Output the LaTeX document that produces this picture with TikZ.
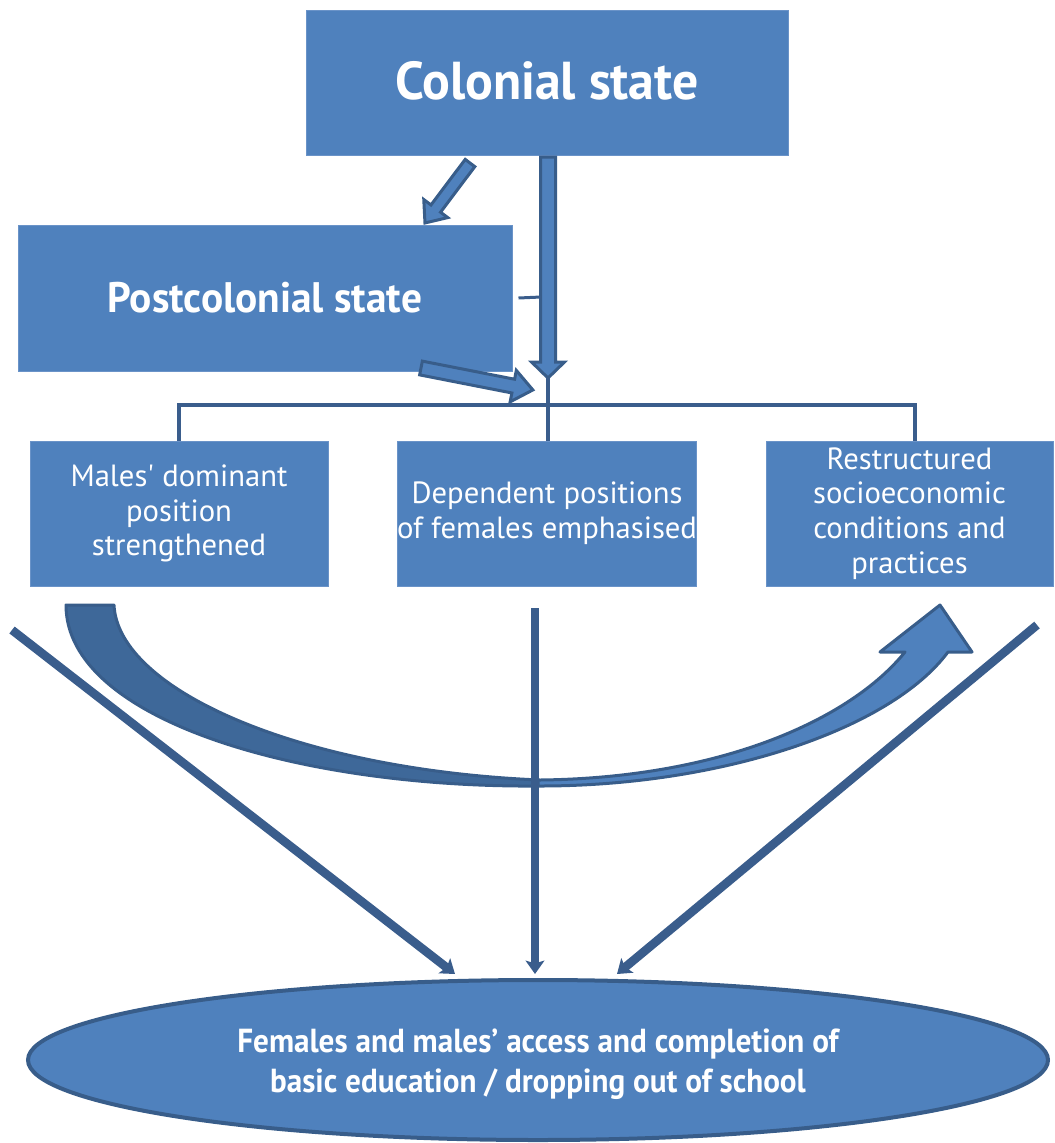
\documentclass[tikz,border=0pt]{standalone}
\usepackage{fontspec}
\setmainfont{PT Sans}
\newfontfamily\boxfont{PT Sans}
\newfontfamily\titlefont[FakeStretch=0.97]{PT Sans Bold}
\newfontfamily\ellfont[FakeStretch=0.935]{PT Sans Bold}
\usetikzlibrary{shapes.geometric,arrows.meta,calc}
\definecolor{boxblue}{HTML}{4F81BD}
\definecolor{edgeblue}{HTML}{385D8A}
\definecolor{lineblue}{HTML}{3A5D8C}
\definecolor{darkfill}{HTML}{3E6899}
\definecolor{boxline}{HTML}{6A93C8}
\tikzset{
  box/.style={rectangle, fill=boxblue, draw=boxline, line width=0.75pt, text=white, align=center, inner sep=0pt},
  smalltext/.style={font=\boxfont\fontsize{23}{26}\selectfont},
  barrowst/.style={fill=boxblue, draw=edgeblue, line width=2.25pt, line join=miter},
  conn/.style={draw=lineblue, line width=6.5pt, -{Stealth[length=10pt,width=14pt,inset=2pt]}},
  tree/.style={draw=lineblue, line width=3pt},
  pics/barrow/.style args={#1/#2/#3/#4}{code={
    \path[barrowst] (0,#2) -- ({#1-#4},#2) -- ({#1-#4},#3) -- (#1,0) -- ({#1-#4},-#3) -- ({#1-#4},-#2) -- (0,-#2) -- cycle;}}
}
\begin{document}
\begin{tikzpicture}[x=0.75pt,y=-0.75pt]
\useasboundingbox (0,0) rectangle (1055,1143);

% boxes
\node[box, minimum width=361.5pt, minimum height=108.75pt, font=\titlefont\fontsize{40}{44}\selectfont] (cs) at (547,82.5) {\raisebox{3.5pt}{Colonial state}};
\node[box, minimum width=370.5pt, minimum height=109.5pt, font=\titlefont\fontsize{32}{36}\selectfont] (pcs) at (265,298) {Postcolonial state};
\node[box, smalltext, minimum width=223.5pt, minimum height=108.75pt] (ml) at (179,513.5) {Males' dominant\\position\\strengthened};
\node[box, smalltext, minimum width=223.5pt, minimum height=108.75pt] (dp) at (547,513.5) {Dependent positions\\of females emphasised};
\node[box, smalltext, minimum width=215.25pt, minimum height=108.75pt] (rs) at (909.5,513.5) {Restructured\\socioeconomic\\conditions and\\practices};

% ellipse
\node[ellipse, fill=boxblue, draw=edgeblue, line width=3pt, minimum width=765pt, minimum height=120pt, inner sep=0pt,
  label={[text=white, align=center, font=\ellfont\fontsize{25}{30}\selectfont, yshift=-3pt]center:{Females and males’ access and completion of\\basic education / dropping out of school}}] (ed) at (538,1060) {};

% block arrows
\pic[rotate=233.1] at (470,163) {barrow=75/6/15/18};
\pic[rotate=-90] at (548,157) {barrow=221/7.5/16.5/16};
\pic[rotate=-11.1] at (421,368) {barrow=114/7/16/20};

% small connector from postcolonial state
\draw[draw=lineblue, line width=2.25pt] ($(pcs.east)+(6,0)$) -- (541,297);

% tree
\coordinate (bar) at (548,405);
\coordinate (vtip) at (548,378);
\draw[tree] (ml.north) -- (ml.north |- bar) -- ($(rs.north |- bar)+(5,0)$) -- ($(rs.north)+(5,0)$);
\draw[tree] (vtip) -- (dp.north -| vtip);

% curved arrow
\fill[darkfill] (66,605) -- (114,605) .. controls (118,690) and (300,770) .. (540,780)
  -- (540,786) .. controls (300,788) and (66,720) .. (66,605) -- cycle;
\fill[boxblue] (540,780) .. controls (720,778) and (850,720) .. (905,652)
  -- (880,652) -- (940,605) -- (972,652) -- (948,652)
  .. controls (890,730) and (720,786) .. (540,786) -- cycle;
\draw[draw=edgeblue, line width=2.25pt, line join=round] (66,605) -- (114,605)
  .. controls (118,690) and (300,770) .. (540,780)
  .. controls (720,778) and (850,720) .. (905,652)
  -- (880,652) -- (940,605) -- (972,652) -- (948,652)
  .. controls (890,730) and (720,786) .. (540,786)
  .. controls (300,788) and (66,720) .. (66,605) -- cycle;

% connectors to the ellipse
\coordinate (a1) at (12,630);
\coordinate (a2) at (535,608);
\coordinate (a3) at (1037,625);
\coordinate (t1) at (455,974);
\coordinate (t2) at (535,974);
\coordinate (t3) at (617,974);
\draw[conn] (a1) -- (t1);
\draw[conn] (a2) -- (t2);
\draw[conn] (a3) -- (t3);
\end{tikzpicture}
\end{document}
